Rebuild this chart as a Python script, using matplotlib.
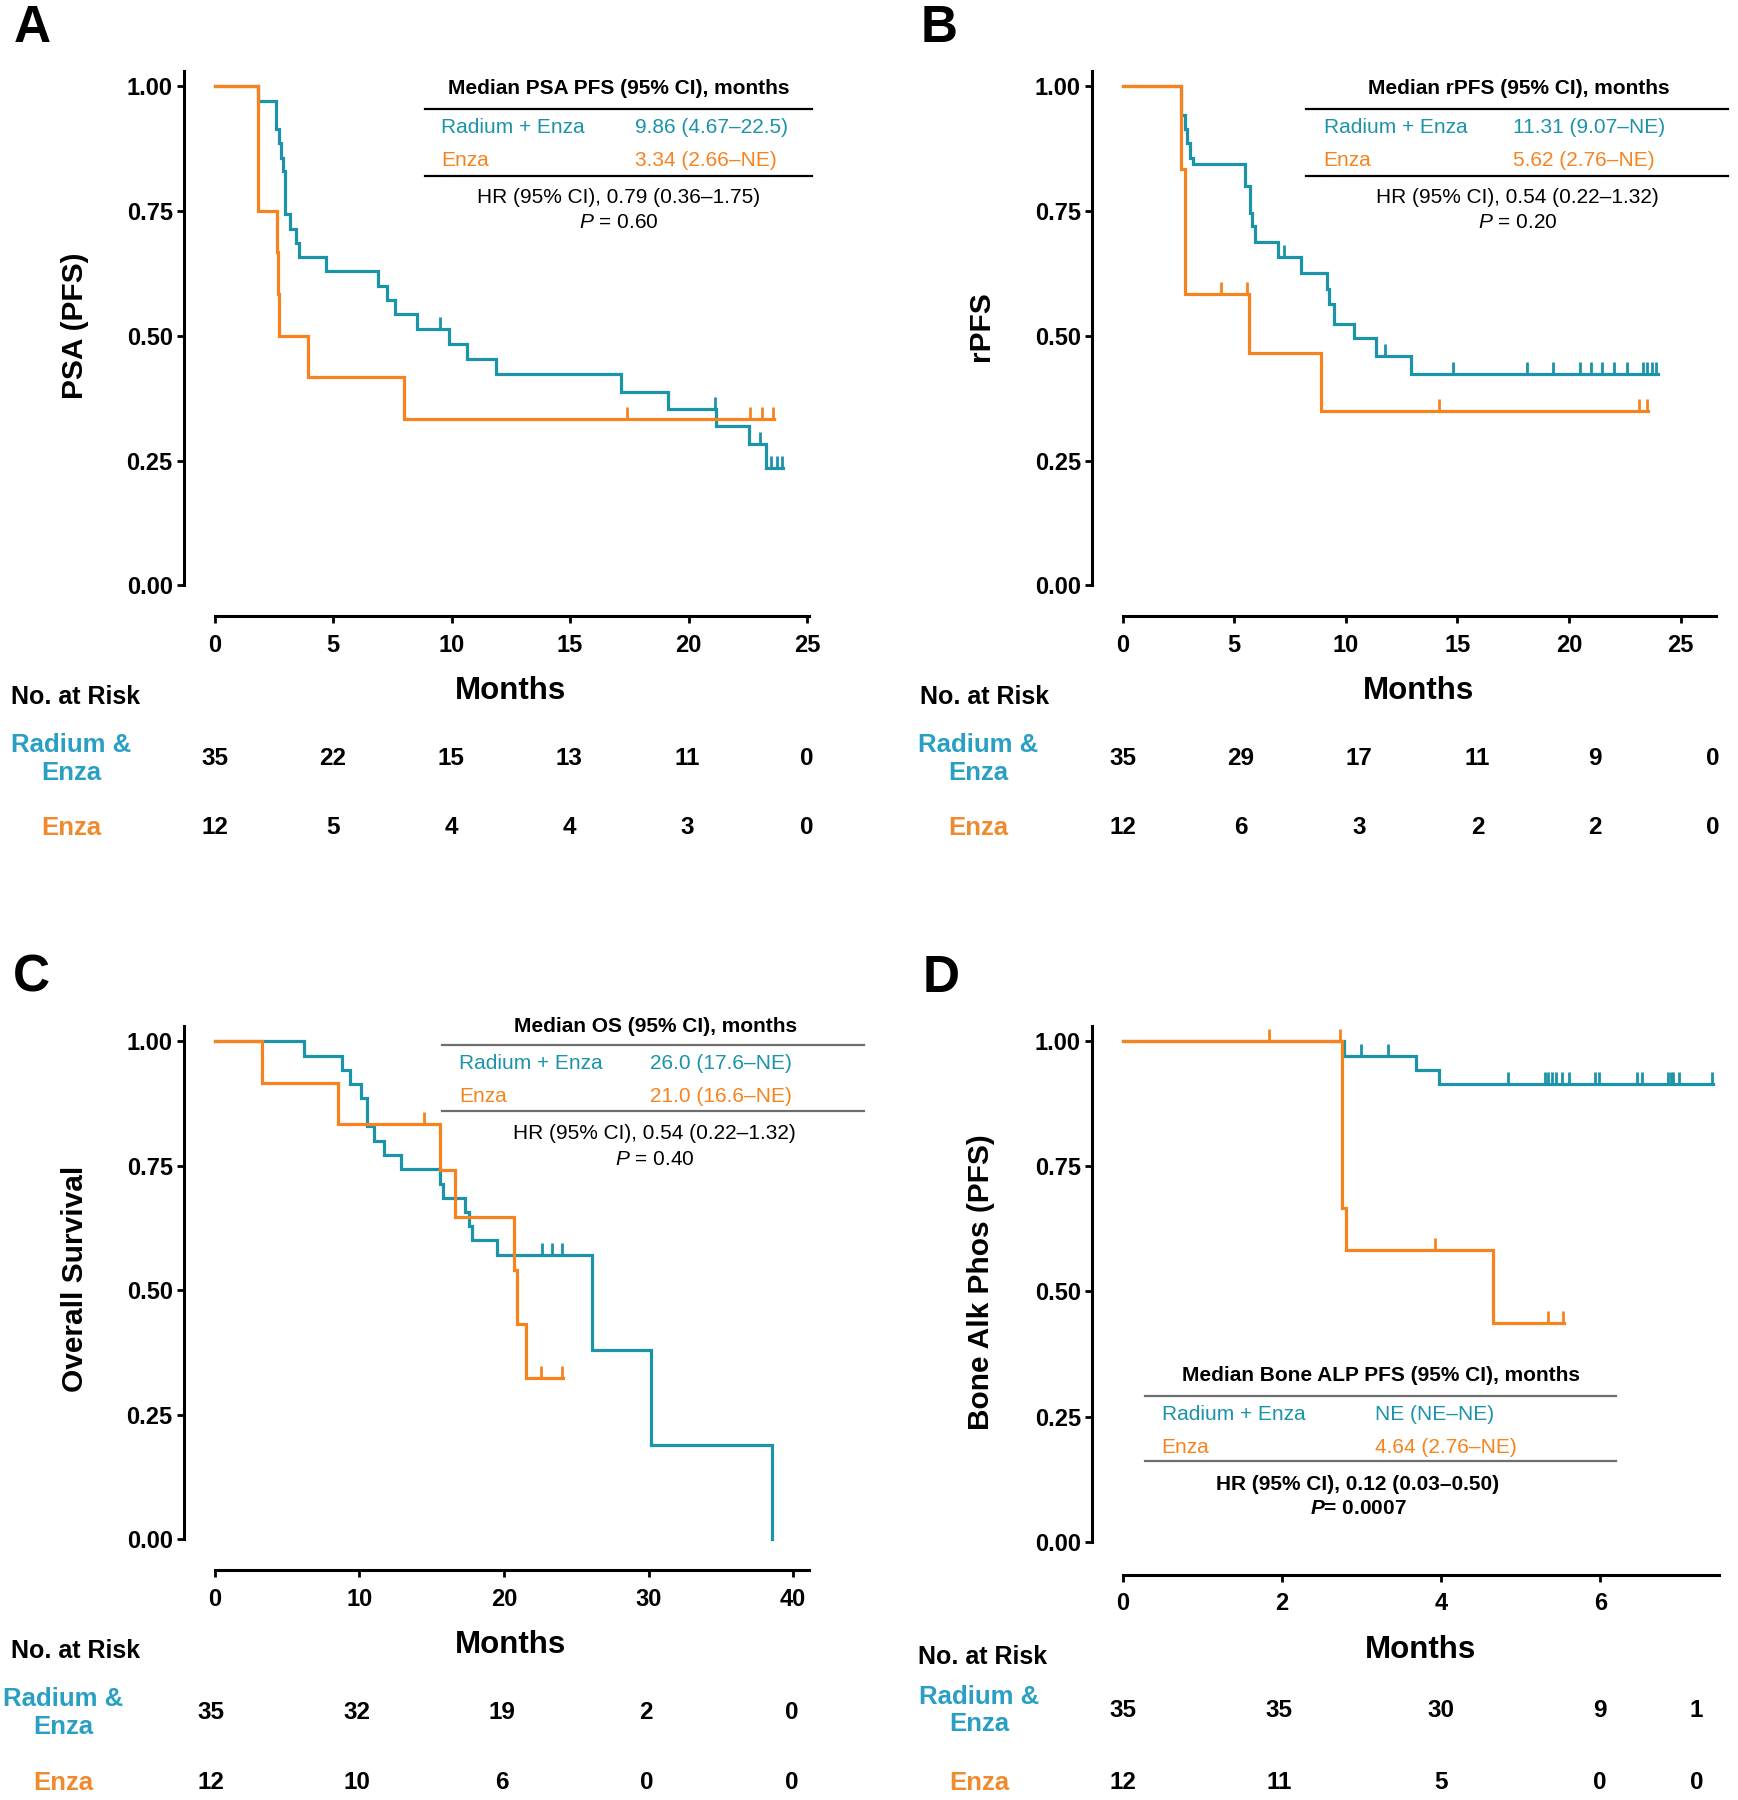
import numpy as np
import matplotlib
matplotlib.use('Agg')
import matplotlib.pyplot as plt
from matplotlib.lines import Line2D
from matplotlib.markers import MarkerStyle
from matplotlib.path import Path

plt.rcParams['font.family'] = ['Liberation Sans', 'DejaVu Sans']
plt.rcParams['mathtext.fontset'] = 'custom'
plt.rcParams['mathtext.rm'] = 'Liberation Sans'
plt.rcParams['mathtext.it'] = 'Liberation Sans:italic'
plt.rcParams['mathtext.bf'] = 'Liberation Sans:italic:bold'

TEAL = '#1b93a9'
ORANGE = '#f7831f'
TEAL_TXT = '#2a9fc4'
ORANGE_TXT = '#ef8a2e'

# ---------------- DATA ----------------
# Panel A: PSA PFS
a_rad_t = [0, 1.84, 2.58, 2.70, 2.80, 2.90, 2.98, 3.16, 3.42, 3.56, 4.68, 6.88, 7.28, 7.63, 8.54,
           9.91, 10.67, 11.88, 17.14, 19.12, 21.14, 22.54, 23.28]
a_rad_s = [1.0, 0.971, 0.914, 0.886, 0.857, 0.829, 0.743, 0.714, 0.686, 0.657, 0.629, 0.600, 0.571,
           0.543, 0.514, 0.484, 0.454, 0.424, 0.388, 0.353, 0.320, 0.283, 0.236]
a_rad_end = 24.0
a_rad_cens = [9.53, 21.10, 23.0, 23.5, 23.75, 23.95]
a_enz_t = [0, 1.81, 2.63, 2.68, 2.72, 3.95, 7.98]
a_enz_s = [1.0, 0.75, 0.667, 0.583, 0.50, 0.417, 0.333]
a_enz_end = 23.6
a_enz_cens = [17.4, 22.6, 23.1, 23.56]
a_ticks = [0, 5, 10, 15, 20, 25]
a_risk_rad = [35, 22, 15, 13, 11, 0]
a_risk_enz = [12, 5, 4, 4, 3, 0]

# Panel B: rPFS
b_rad_t = [0, 2.63, 2.78, 2.90, 3.00, 3.15, 5.50, 5.69, 5.81, 5.93, 6.98, 8.00, 9.15, 9.26, 9.48,
           10.37, 11.33, 12.91]
b_rad_s = [1.0, 0.943, 0.914, 0.886, 0.857, 0.843, 0.80, 0.745, 0.72, 0.688, 0.657, 0.626, 0.594,
           0.563, 0.523, 0.496, 0.46, 0.423]
b_rad_end = 24.0
b_rad_cens = [7.22, 11.76, 14.8, 18.1, 19.3, 20.5, 21.0, 21.5, 22.0, 22.6, 23.3, 23.5, 23.7, 23.9]
b_enz_t = [0, 2.63, 2.80, 5.65, 8.87]
b_enz_s = [1.0, 0.833, 0.583, 0.466, 0.349]
b_enz_end = 23.55
b_enz_cens = [4.39, 5.56, 14.17, 23.15, 23.5]
b_ticks = [0, 5, 10, 15, 20, 25]
b_risk_rad = [35, 29, 17, 11, 9, 0]
b_risk_enz = [12, 6, 3, 2, 2, 0]

# Panel C: OS
c_rad_t = [0, 6.2, 8.78, 9.35, 10.1, 10.5, 11.0, 11.7, 12.9, 15.6, 15.8, 17.3, 17.6, 17.8, 19.5,
           26.1, 30.2, 38.5]
c_rad_s = [1.0, 0.971, 0.943, 0.914, 0.886, 0.829, 0.80, 0.771, 0.743, 0.714, 0.686, 0.657, 0.629,
           0.60, 0.571, 0.381, 0.19, 0.0]
c_rad_end = 38.5
c_rad_cens = [22.6, 23.3, 24.0]
c_enz_t = [0, 3.24, 8.5, 15.6, 16.6, 20.7, 20.9, 21.5]
c_enz_s = [1.0, 0.917, 0.833, 0.741, 0.648, 0.54, 0.432, 0.324]
c_enz_end = 24.1
c_enz_cens = [14.5, 22.55, 24.0]
c_ticks = [0, 10, 20, 30, 40]
c_risk_rad = [35, 32, 19, 2, 0]
c_risk_enz = [12, 10, 6, 0, 0]

# Panel D: Bone ALP PFS
d_rad_t = [0, 2.78, 3.69, 3.97]
d_rad_s = [1.0, 0.971, 0.943, 0.914]
d_rad_end = 7.42
d_rad_cens = [2.99, 3.33, 4.84, 5.31, 5.34, 5.40, 5.45, 5.52, 5.61, 5.94, 5.99, 6.46, 6.52,
              6.85, 6.89, 6.92, 6.99, 7.41]
d_enz_t = [0, 2.76, 2.80, 4.65]
d_enz_s = [1.0, 0.667, 0.583, 0.437]
d_enz_end = 5.54
d_enz_cens = [1.84, 2.73, 3.92, 5.34, 5.53]
d_ticks = [0, 2, 4, 6]
d_risk_rad = [35, 35, 30, 9, 1]
d_risk_enz = [12, 11, 5, 0, 0]

y_ticks = [0.0, 0.25, 0.50, 0.75, 1.00]

# ---------------- LAYOUT (in 1514x1568 reference-view pixel space) ----------------
W, H = 1514.0, 1568.0
fig = plt.figure(figsize=(17.38, 18.0), dpi=100)
PX = 1738.0 / W  # real px per layout px
PT = PX * 0.72   # points per layout px


def fx(x):
    return x / W


def fy(y):
    return 1 - y / H


def T(x, y, s, **kw):
    kw.setdefault('va', 'center')
    return fig.text(fx(x), fy(y), s, **kw)


def HL(x1, x2, y, color='black', lw=1.6):
    fig.add_artist(Line2D([fx(x1), fx(x2)], [fy(y), fy(y)], transform=fig.transFigure,
                          color=color, lw=lw))


cens_marker = MarkerStyle(Path([(0, 0), (0, 1)]))


def step_at(t, s, x):
    t = np.asarray(t)
    idx = np.searchsorted(t, x, side='right') - 1
    return np.asarray(s)[idx]


def km(ax, t, s, end, cens, color):
    tt = list(t) + [end]
    ss = list(s) + [s[-1]]
    ax.step(tt, ss, where='post', color=color, lw=2.3, solid_joinstyle='miter', clip_on=False)
    cy = step_at(t, s, cens)
    ax.plot(cens, cy, linestyle='none', marker=cens_marker, markersize=18,
            markeredgewidth=2.0, color=color, clip_on=False)


def make_axes(x0, y0, y1, xpx_per, xmax, ticks, offx, offy):
    # x0: layout px of x=0 ; y0: layout px of y=0 ; y1: layout px of y=1
    ymax = 1.03
    ypx = y0 - y1
    left = x0
    right = x0 + xpx_per * xmax
    top = y0 - ypx * ymax
    ax = fig.add_axes([fx(left), fy(y0), (right - left) / W, (y0 - top) / H])
    ax.set_xlim(0, xmax)
    ax.set_ylim(0, ymax)
    for sp in ['top', 'right']:
        ax.spines[sp].set_visible(False)
    ax.spines['left'].set_position(('outward', offx * PT))
    ax.spines['bottom'].set_position(('outward', offy * PT))
    for sp in ['left', 'bottom']:
        ax.spines[sp].set_linewidth(2.2)
    ax.set_yticks(y_ticks)
    ax.set_yticklabels(['%.2f' % v for v in y_ticks])
    ax.set_xticks(ticks)
    ax.set_xticklabels([str(v) for v in ticks])
    ax.tick_params(axis='both', direction='out', length=6.5 * PT, width=2.0,
                   labelsize=17, color='black')
    ax.tick_params(axis='y', pad=2.5)
    ax.tick_params(axis='x', pad=7)
    for lab in ax.get_xticklabels() + ax.get_yticklabels():
        lab.set_fontweight('bold')
    ax.patch.set_alpha(0)
    return ax


# Panel A
axA = make_axes(187, 510, 75, (703 - 187) / 25, 25.1, a_ticks, 27, 27)
km(axA, a_rad_t, a_rad_s, a_rad_end, a_rad_cens, TEAL)
km(axA, a_enz_t, a_enz_s, a_enz_end, a_enz_cens, ORANGE)

# Panel B
axB = make_axes(978, 510, 75, (1464 - 978) / 25, 26.6, b_ticks, 27, 27)
km(axB, b_rad_t, b_rad_s, b_rad_end, b_rad_cens, TEAL)
km(axB, b_enz_t, b_enz_s, b_enz_end, b_enz_cens, ORANGE)

# Panel C
axC = make_axes(187, 1341, 907, (691 - 187) / 40, 41.1, c_ticks, 27, 27)
km(axC, c_rad_t, c_rad_s, c_rad_end, c_rad_cens, TEAL)
km(axC, c_enz_t, c_enz_s, c_enz_end, c_enz_cens, ORANGE)

# Panel D
axD = make_axes(978, 1343, 907, (1394 - 978) / 6, 7.49, d_ticks, 27, 29)
km(axD, d_rad_t, d_rad_s, d_rad_end, d_rad_cens, TEAL)
km(axD, d_enz_t, d_enz_s, d_enz_end, d_enz_cens, ORANGE)

# Panel letters
for (x, y, s) in [(28, 25, 'A'), (818, 25, 'B'), (27, 852, 'C'), (820, 852, 'D')]:
    T(x, y, s, ha='center', fontsize=37, fontweight='bold')

# Y labels
for (x, y, s) in [(65, 284, 'PSA (PFS)'), (855, 284, 'rPFS'), (65, 1114, 'Overall Survival'),
                  (855, 1117, 'Bone Alk Phos (PFS)')]:
    T(x, y, s, ha='center', rotation=90, fontsize=21.5, fontweight='bold')

# Months labels
for (x, y) in [(445, 602), (1236, 602), (445, 1433), (1237, 1437)]:
    T(x, y, 'Months', ha='center', fontsize=22.5, fontweight='bold')

# Risk tables
risk_layout = [
    # (noatrisk_x, noatrisk_y, label_x, rad_y, enz_y, number x list, rad data, enz data)
    (10, 607, 62, 661, 721, [187, 290, 393, 496, 599, 703], a_risk_rad, a_risk_enz),
    (801, 607, 852, 661, 721, [978, 1081, 1184, 1287, 1389, 1492], b_risk_rad, b_risk_enz),
    (10, 1438, 55, 1492, 1553, [184, 311, 437, 563, 690], c_risk_rad, c_risk_enz),
    (800, 1443, 853, 1490, 1553, [978, 1114, 1255, 1394, 1478], d_risk_rad, d_risk_enz),
]
for (nx, ny, lx, ry, ey, xs, rr, ee) in risk_layout:
    T(nx, ny, 'No. at Risk', ha='left', fontsize=18, fontweight='bold')
    T(lx, ry, 'Radium &\nEnza', ha='center', fontsize=18.5, fontweight='bold',
      color=TEAL_TXT, linespacing=1.2)
    T(lx, ey, 'Enza', ha='center', fontsize=18.5, fontweight='bold', color=ORANGE_TXT)
    for x, v in zip(xs, rr):
        T(x, ry, str(v), ha='center', fontsize=17.5, fontweight='bold')
    for x, v in zip(xs, ee):
        T(x, ey, str(v), ha='center', fontsize=17.5, fontweight='bold')

# Median tables
tables = [
    dict(cx=539, hy=77, l1=95, l2=153, lx1=370, lx2=707, rx=384, vx=553, r1=111, r2=140,
         hrx=539, hry=172, py=194, lc='black',
         head='Median PSA PFS (95% CI), months', v1='9.86 (4.67\u201322.5)', v2='3.34 (2.66\u2013NE)',
         hr='HR (95% CI), 0.79 (0.36\u20131.75)', p=r'$\mathit{P}$ = 0.60', bold=False),
    dict(cx=1323, hy=77, l1=95, l2=153, lx1=1138, lx2=1505, rx=1153, vx=1318, r1=111, r2=140,
         hrx=1322, hry=172, py=194, lc='black',
         head='Median rPFS (95% CI), months', v1='11.31 (9.07\u2013NE)', v2='5.62 (2.76\u2013NE)',
         hr='HR (95% CI), 0.54 (0.22\u20131.32)', p=r'$\mathit{P}$ = 0.20', bold=False),
    dict(cx=571, hy=894, l1=910, l2=968, lx1=385, lx2=753, rx=400, vx=566, r1=926, r2=955,
         hrx=570, hry=987, py=1010, lc='#6e6e6e',
         head='Median OS (95% CI), months', v1='26.0 (17.6\u2013NE)', v2='21.0 (16.6\u2013NE)',
         hr='HR (95% CI), 0.54 (0.22\u20131.32)', p=r'$\mathit{P}$ = 0.40', bold=False),
    dict(cx=1203, hy=1198, l1=1216, l2=1273, lx1=997, lx2=1408, rx=1012, vx=1198, r1=1232, r2=1261,
         hrx=1183, hry=1293, py=1314, lc='#6e6e6e',
         head='Median Bone ALP PFS (95% CI), months', v1='NE (NE\u2013NE)', v2='4.64 (2.76\u2013NE)',
         hr='HR (95% CI), 0.12 (0.03\u20130.50)', p=r'$\mathbf{P}$= 0.0007', bold=True),
]
for tb in tables:
    T(tb['cx'], tb['hy'], tb['head'], ha='center', fontsize=15, fontweight='bold')
    HL(tb['lx1'], tb['lx2'], tb['l1'], color=tb['lc'])
    HL(tb['lx1'], tb['lx2'], tb['l2'], color=tb['lc'])
    T(tb['rx'], tb['r1'], 'Radium + Enza', ha='left', fontsize=15, color=TEAL)
    T(tb['vx'], tb['r1'], tb['v1'], ha='left', fontsize=15, color=TEAL)
    T(tb['rx'], tb['r2'], 'Enza', ha='left', fontsize=15, color=ORANGE)
    T(tb['vx'], tb['r2'], tb['v2'], ha='left', fontsize=15, color=ORANGE)
    w = 'bold' if tb['bold'] else 'normal'
    T(tb['hrx'], tb['hry'], tb['hr'], ha='center', fontsize=15, fontweight=w)
    T(tb['hrx'], tb['py'], tb['p'], ha='center', fontsize=15, fontweight=w)

fig.savefig('out.png', dpi=100, facecolor='white')
